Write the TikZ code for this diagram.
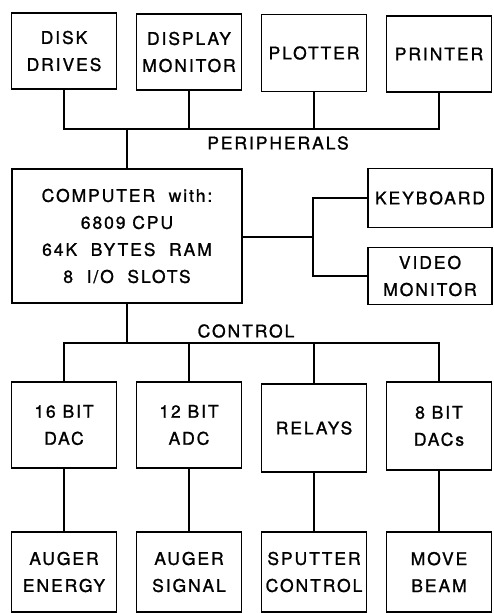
\documentclass[tikz,border=0pt]{standalone}
\usepackage{fontspec}
\setmainfont[LetterSpace=11, FakeBold=1.2]{TeX Gyre Heros}
\usepackage{tikz}
\usetikzlibrary{positioning}

\tikzset{
  unit/.style={draw, line width=1.8pt, align=center, inner sep=0pt,
    minimum width=105pt, font=\fontsize{17.5}{27}\selectfont},
  buslabel/.style={font=\fontsize{17.5}{27}\selectfont},
}

\begin{document}
\begin{tikzpicture}[x=1pt, y=-1pt, line width=1.8pt]
\useasboundingbox (0,0) rectangle (494,613);

% peripherals
\node[unit, minimum height=76pt] (disk)    at (64,51)  {DISK\\DRIVES};
\node[unit, minimum height=76pt] (display) at (189,52) {DISPLAY\\MONITOR};
\node[unit, minimum height=77pt] (plotter) at (314,53) {PLOTTER};
\node[unit, minimum height=76pt] (printer) at (439,54) {PRINTER};

% computer and terminal
\node[unit, minimum width=230pt, minimum height=134pt] (computer) at (127,236)
  {COMPUTER~~with:\\6809 CPU\\64K~~BYTES~~RAM\\8~~I/O~~SLOTS};
\node[unit, minimum width=124pt, minimum height=59pt] (keyboard) at (430,198) {KEYBOARD};
\node[unit, minimum width=124pt, minimum height=57pt] (video)    at (430,276) {VIDEO\\MONITOR};

% interfaces
\node[unit, minimum height=86pt] (dac16)  at (64,425)  {16 BIT\\DAC};
\node[unit, minimum height=86pt] (adc12)  at (189,425) {12 BIT\\ADC};
\node[unit, minimum height=88pt] (relays) at (314,428) {RELAYS};
\node[unit, minimum height=88pt] (dac8)   at (439,426) {8 BIT\\DACs};

% experiment
\node[unit, minimum height=80pt] (energy)  at (64,572)  {AUGER\\ENERGY};
\node[unit, minimum height=80pt] (signal)  at (189,572) {AUGER\\SIGNAL};
\node[unit, minimum height=80pt] (sputter) at (314,572) {SPUTTER\\CONTROL};
\node[unit, minimum height=80pt] (beam)    at (439,572) {MOVE\\BEAM};

% busses
\coordinate (pbus)  at (126,129);
\coordinate (cbus)  at (126,343);
\coordinate (split) at (313,237);

\draw (disk.south) -- (disk.south |- pbus) -- (printer.south |- pbus) -- (printer.south);
\draw (display.south) -- (display.south |- pbus);
\draw (plotter.south) -- (plotter.south |- pbus);
\draw (computer.north) -- (computer.north |- pbus);
\node[buslabel] (plabel) at (278,143) {PERIPHERALS};

\draw (computer.east |- split) -- (split);
\draw (keyboard.west) -| (split) |- (video.west);

\draw (computer.south) -- (computer.south |- cbus);
\draw (dac16.north) -- (dac16.north |- cbus) -- (dac8.north |- cbus) -- (dac8.north);
\draw (adc12.north) -- (adc12.north |- cbus);
\draw (relays.north) -- (relays.north |- cbus);
\node[buslabel] (clabel) at (246,331) {CONTROL};

\foreach \a/\b in {dac16/energy, adc12/signal, relays/sputter, dac8/beam}
  \draw (\a) -- (\b);

\end{tikzpicture}
\end{document}
